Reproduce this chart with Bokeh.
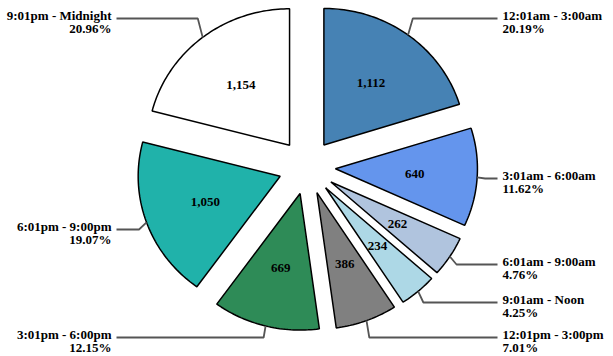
import math
from bokeh.plotting import figure
from bokeh.models import ColumnDataSource, Range1d
from bokeh.core.properties import value
from bokeh.embed import file_html
from bokeh.resources import INLINE

# ---- data ----
categories = ["12:01am - 3:00am", "3:01am - 6:00am", "6:01am - 9:00am", "9:01am - Noon",
              "12:01pm - 3:00pm", "3:01pm - 6:00pm", "6:01pm - 9:00pm", "9:01pm - Midnight"]
counts = [1112, 640, 262, 234, 386, 669, 1050, 1154]
colors = ["#4682B4", "#6495ED", "#B0C4DE", "#ADD8E6", "#808080", "#2E8B57", "#20B2AA", "#FFFFFF"]
# vertical position of each outside label's leader line (layout)
label_line_y = [18, 178, 264, 302, 337, 337, 229, 18]

# ---- layout constants ----
W, H = 613, 356
CX, CY = 306.5, 166.5
RX, RY = 142.0, 136.5
EXPLODE = 28.5
RIGHT_LINE_END, RIGHT_TEXT_X = 497, 502
LEFT_LINE_END, LEFT_TEXT_X = 116, 111
FONT = value("Liberation Serif")

total = sum(counts)

p = figure(width=W, height=H, output_backend="svg", toolbar_location=None,
           x_range=Range1d(0, W), y_range=Range1d(H, 0),
           min_border=0, outline_line_color=None)
p.axis.visible = False
p.grid.visible = False

xs, ys = [], []
val_x, val_y, val_txt = [], [], []
lead_xs, lead_ys = [], []
r_cat_x, r_cat_y, r_cat_t, r_pct_y, r_pct_t = [], [], [], [], []
l_cat_x, l_cat_y, l_cat_t, l_pct_y, l_pct_t = [], [], [], [], []

cum = 0
for i, v in enumerate(counts):
    a0 = cum / total * 2 * math.pi
    cum += v
    a1 = cum / total * 2 * math.pi
    mid = (a0 + a1) / 2
    s, c = math.sin(mid), math.cos(mid)
    ax = CX + EXPLODE * s
    ay = CY - EXPLODE * c * (RY / RX)
    n = max(8, int((a1 - a0) / 0.02))
    px = [ax]
    py = [ay]
    for k in range(n + 1):
        t = a0 + (a1 - a0) * k / n
        px.append(ax + RX * math.sin(t))
        py.append(ay - RY * math.cos(t))
    xs.append(px)
    ys.append(py)
    val_x.append(ax + 0.56 * RX * s)
    val_y.append(ay - 0.56 * RY * c)
    val_txt.append(f"{v:,}")
    # leader line
    arc_x = ax + RX * s
    arc_y = ay - RY * c
    ly = label_line_y[i]
    elbow_x = arc_x + 8 * s
    end_x = RIGHT_LINE_END if s > 0 else LEFT_LINE_END
    lead_xs.append([arc_x, elbow_x, end_x])
    lead_ys.append([arc_y, ly, ly])
    pct = f"{v / total * 100:.2f}%"
    if s > 0:
        r_cat_x.append(RIGHT_TEXT_X); r_cat_y.append(ly - 3); r_cat_t.append(categories[i])
        r_pct_y.append(ly + 10); r_pct_t.append(pct)
    else:
        l_cat_x.append(LEFT_TEXT_X); l_cat_y.append(ly - 3); l_cat_t.append(categories[i])
        l_pct_y.append(ly + 10); l_pct_t.append(pct)

p.patches(xs=xs, ys=ys, fill_color=colors, line_color="black", line_width=1.5)
p.multi_line(xs=lead_xs, ys=lead_ys, line_color="#555555", line_width=1.8)

common = dict(text_font=FONT, text_font_style="bold", text_font_size="13px",
              text_color="black", text_baseline="middle")
p.text(x=val_x, y=val_y, text=val_txt, text_align="center", **common)
p.text(x=r_cat_x, y=r_cat_y, text=r_cat_t, text_align="left", **common)
p.text(x=r_cat_x, y=r_pct_y, text=r_pct_t, text_align="left", **common)
p.text(x=l_cat_x, y=l_cat_y, text=l_cat_t, text_align="right", **common)
p.text(x=l_cat_x, y=l_pct_y, text=l_pct_t, text_align="right", **common)

open("out.html", "w").write(file_html(p, INLINE))
